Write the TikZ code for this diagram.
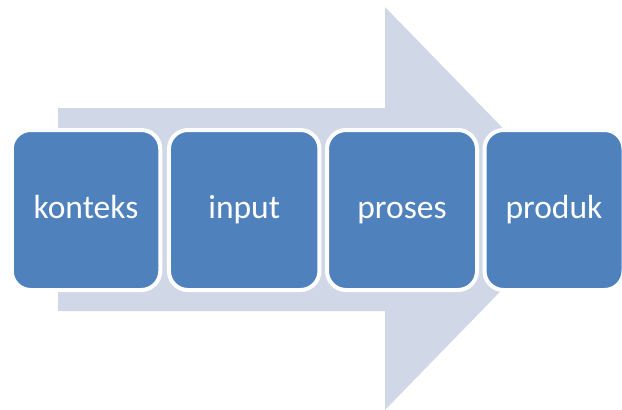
\documentclass[tikz,border=0pt]{standalone}
\usepackage{fontspec}
\setmainfont{Carlito}
\definecolor{stageBlue}{RGB}{79,129,189}
\definecolor{stageArrow}{RGB}{208,216,232}

\begin{document}
\begin{tikzpicture}[x=1pt,y=-1pt,
  stageBox/.style={draw=white, line width=4pt, fill=stageBlue, rounded corners=19pt, text=white, minimum height=160pt, inner sep=0pt, font=\fontsize{33.5}{40}\selectfont, text height=23pt, text depth=7pt}]
\useasboundingbox (0,0) rectangle (622,410);
\fill[stageArrow] (58,108) -- (385,108) -- (385,7) -- (581,208.5) -- (385,410) -- (385,311) -- (58,311) -- cycle;
\node[stageBox, minimum width=148.5pt] (konteks) at (86,210) {konteks};
\node[stageBox, minimum width=150.5pt] (input) at (244.2,210) {input};
\node[stageBox, minimum width=150pt] (proses) at (402,210) {proses};
\node[stageBox, minimum width=139pt] (produk) at (554,210) {produk};
\end{tikzpicture}
\end{document}
